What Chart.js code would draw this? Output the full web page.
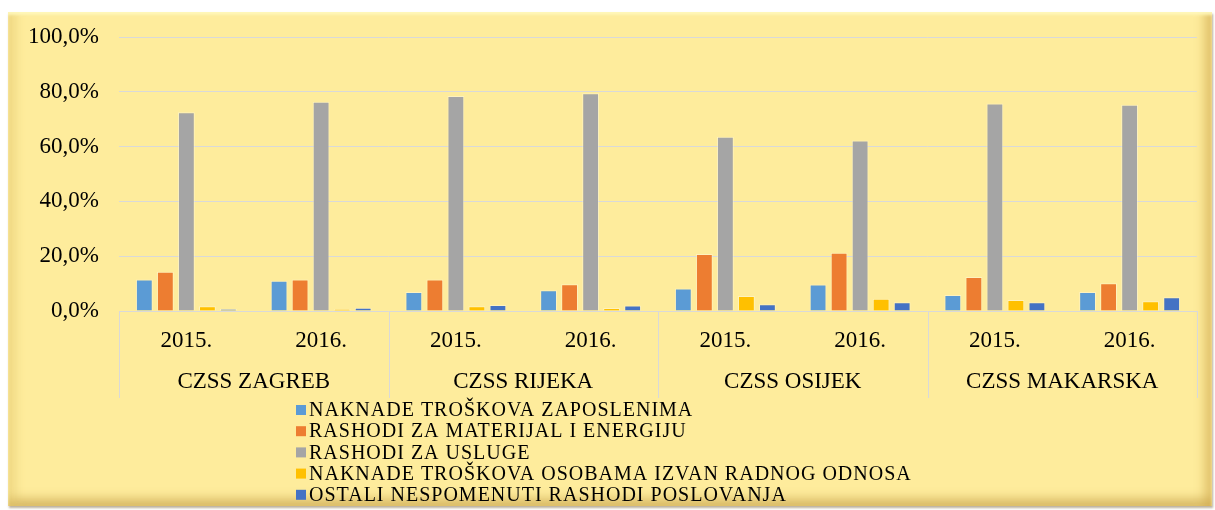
<!DOCTYPE html>
<html>
<head>
<meta charset="utf-8">
<script src="https://cdn.jsdelivr.net/npm/chart.js@4.4.1/dist/chart.umd.min.js"></script>
<style>
  html, body { margin: 0; padding: 0; background: #ffffff; }
  #wrap { position: relative; width: 1215px; height: 510px; overflow: hidden; }
  #panel {
    position: absolute; left: 8px; top: 12px; width: 1204px; height: 494px;
    background: #FEEC9C;
    box-shadow:
      inset 0 3px 3px rgba(255, 248, 190, 0.9),
      inset 14px 0 10px -6px rgba(225, 195, 105, 0.45),
      inset -14px 0 10px -6px rgba(205, 165, 75, 0.55),
      inset 0 -14px 10px -6px rgba(195, 155, 70, 0.55),
      1px 2px 2px rgba(120, 100, 60, 0.5);
  }
  #myBarChart { position: absolute; left: 0; top: 0; }
</style>
</head>
<body>
<div id="wrap">
  <div id="panel"></div>
  <canvas id="myBarChart" width="1215" height="510"></canvas>
</div>
<script>
const years = ['2015.', '2016.', '2015.', '2016.', '2015.', '2016.', '2015.', '2016.'];
const groups = ['CZSS ZAGREB', 'CZSS RIJEKA', 'CZSS OSIJEK', 'CZSS MAKARSKA'];
const seriesNames = [
    'NAKNADE TROŠKOVA ZAPOSLENIMA',
    'RASHODI ZA MATERIJAL I ENERGIJU',
    'RASHODI ZA USLUGE',
    'NAKNADE TROŠKOVA OSOBAMA IZVAN RADNOG ODNOSA',
    'OSTALI NESPOMENUTI RASHODI POSLOVANJA'
];
const zaposlenima = [11.5, 11.0, 6.9, 7.6, 8.2, 9.7, 5.8, 6.9];
const materijal   = [14.3, 11.5, 11.5, 9.8, 20.8, 21.3, 12.4, 10.1];
const usluge      = [72.5, 76.4, 78.5, 79.5, 63.6, 62.2, 75.7, 75.3];
const osobama     = [1.7, 0.7, 1.7, 1.1, 5.5, 4.5, 4.0, 3.6];
const ostali      = [0.7, 1.2, 2.2, 2.0, 2.5, 3.2, 3.2, 5.0];
const colors = ['#5B9BD5', '#ED7D31', '#A5A5A5', '#FFC000', '#4472C4'];

const serif = "'Liberation Serif', 'Times New Roman', serif";

// group labels + divider lines under the year labels
const groupAxis = {
    id: 'groupAxis',
    afterDraw(chart) {
        const ctx = chart.ctx;
        const x = chart.scales.x;
        const area = chart.chartArea;
        const step = x.getPixelForValue(1) - x.getPixelForValue(0);
        ctx.save();
        ctx.strokeStyle = '#D9D9D9';
        ctx.lineWidth = 1;
        for (let g = 0; g <= groups.length; g++) {
            const px = Math.round(x.getPixelForValue(g * 2) - step / 2) + 0.5;
            ctx.beginPath();
            ctx.moveTo(px, area.bottom);
            ctx.lineTo(px, 398);
            ctx.stroke();
        }
        ctx.fillStyle = '#000';
        ctx.font = '23px ' + serif;
        ctx.textAlign = 'center';
        ctx.textBaseline = 'middle';
        groups.forEach((name, g) => {
            const cx = (x.getPixelForValue(g * 2) + x.getPixelForValue(g * 2 + 1)) / 2;
            ctx.fillText(name, cx, 382);
        });
        ctx.restore();
    }
};

// one legend entry per row, below the axis
const stackedLegend = {
    id: 'stackedLegend',
    afterDraw(chart) {
        const ctx = chart.ctx;
        ctx.save();
        ctx.font = '20px ' + serif;
        ctx.letterSpacing = '1px';
        ctx.textBaseline = 'middle';
        chart.data.datasets.forEach((ds, i) => {
            const y = 410 + i * 21.2;
            ctx.fillStyle = ds.backgroundColor;
            ctx.fillRect(296, y - 5, 10, 10);
            ctx.fillStyle = '#000';
            ctx.fillText(ds.label, 309, y + 1);
        });
        ctx.restore();
    }
};

function createChart() {
    const ctx = document.getElementById('myBarChart').getContext('2d');
    const values = [zaposlenima, materijal, usluge, osobama, ostali];
    new Chart(ctx, {
        type: 'bar',
        data: {
            labels: years,
            datasets: values.map((v, i) => ({
                label: seriesNames[i],
                data: v,
                backgroundColor: colors[i],
                borderColor: 'rgba(255,255,255,0.35)',
                borderWidth: 1,
                categoryPercentage: 0.78,
                barPercentage: 0.8
            }))
        },
        options: {
            responsive: false,
            devicePixelRatio: 1,
            animation: false,
            layout: { padding: { top: 37, left: 0, right: 18, bottom: 0 } },
            scales: {
                x: {
                    grid: { display: false },
                    border: { display: false },
                    ticks: {
                        color: '#000',
                        font: { family: serif, size: 23 },
                        padding: 8,
                        maxRotation: 0
                    },
                    afterFit: scale => { scale.height = 199; }
                },
                y: {
                    min: 0,
                    max: 100,
                    grid: { color: '#D9D9D9', drawTicks: false },
                    border: { display: false },
                    ticks: {
                        stepSize: 20,
                        padding: 20,
                        color: '#000',
                        font: { family: serif, size: 23 },
                        callback: v => v.toFixed(1).replace('.', ',') + '%'
                    },
                    afterFit: scale => { scale.width = 119; }
                }
            },
            plugins: {
                legend: { display: false },
                tooltip: { enabled: false }
            }
        },
        plugins: [groupAxis, stackedLegend]
    });
}

createChart();
</script>
</body>
</html>
